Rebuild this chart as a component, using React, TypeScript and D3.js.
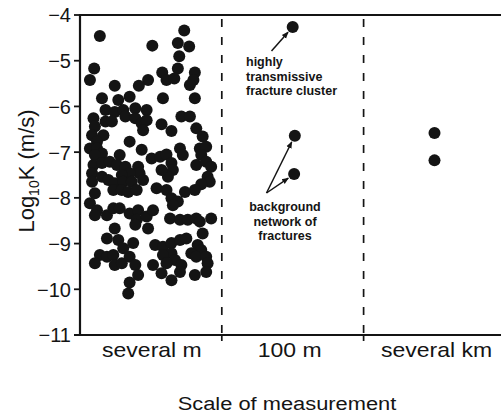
import React from "react";
import * as d3 from "d3";

const categories = ["several m", "100 m", "several km"];
const yTicks = [-4, -5, -6, -7, -8, -9, -10, -11];

// [position within band (0-1), log10 K]
const severalM: [number, number][] = [
  [.14,-4.46],[.51,-4.67],[.735,-4.34],[.69,-4.61],[.77,-4.69],[.70,-4.90],[.10,-5.17],[.07,-5.42],
  [.69,-5.17],[.58,-5.26],[.61,-5.42],[.665,-5.39],[.81,-5.26],[.80,-5.42],[.48,-5.42],[.415,-5.55],
  [.245,-5.55],[.775,-5.53],
  [.81,-5.82],[.585,-5.82],[.715,-6.22],[.775,-6.22],[.82,-6.48],[.865,-6.66],[.575,-6.39],[.645,-6.54],
  [.35,-6.77],[.435,-6.95],[.505,-7.14],[.565,-7.10],[.61,-7.05],[.705,-6.92],[.725,-7.06],[.845,-6.92],
  [.89,-6.88],[.855,-7.06],[.82,-7.28],[.89,-7.21],[.925,-7.32],[.645,-7.24],[.655,-7.39],[.62,-7.54],
  [.575,-7.39],[.54,-7.79],[.61,-7.83],[.90,-7.54],[.915,-7.65],[.855,-7.70],[.81,-7.83],[.74,-7.87],
  [.155,-5.82],[.27,-5.86],[.35,-5.79],[.18,-6.08],[.245,-6.12],[.305,-6.08],[.39,-6.04],[.47,-6.08],
  [.32,-6.22],[.39,-6.26],[.435,-6.37],[.47,-6.30],[.445,-6.52],[.095,-6.26],[.105,-6.44],[.18,-6.33],
  [.225,-6.33],[.085,-6.63],[.165,-6.63],[.12,-6.77],[.07,-6.92],[.12,-6.92],[.155,-7.03],[.105,-7.06],
  [.095,-7.28],[.155,-7.24],[.21,-7.21],[.28,-7.06],[.26,-7.28],[.32,-7.32],[.41,-7.32],[.42,-7.46],
  [.35,-7.46],[.295,-7.50],[.085,-7.46],[.085,-7.65],[.155,-7.54],[.20,-7.61],[.245,-7.68],[.305,-7.65],
  [.365,-7.65],[.445,-7.61],[.235,-7.83],[.295,-7.83],[.34,-7.87],[.40,-7.83],[.105,-7.90],
  [.07,-8.12],[.12,-8.27],[.105,-8.38],[.19,-8.38],[.235,-8.23],[.28,-8.23],[.35,-8.34],[.41,-8.27],
  [.40,-8.48],[.47,-8.41],[.515,-8.27],[.48,-8.67],[.39,-8.59],[.645,-8.01],[.69,-8.08],[.655,-8.16],
  [.635,-8.45],[.705,-8.48],[.76,-8.48],[.82,-8.45],[.845,-8.52],[.925,-8.45],[.865,-8.78],[.245,-8.67],
  [.19,-8.89],[.27,-8.92],[.305,-9.10],[.375,-8.99],[.53,-9.03],[.585,-9.07],[.645,-8.99],[.705,-8.92],
  [.75,-8.89],[.83,-9.03],[.855,-9.14],[.785,-9.21],[.82,-9.29],[.89,-9.29],[.90,-9.43],[.89,-9.62],
  [.645,-9.21],[.585,-9.25],[.67,-9.36],[.61,-9.43],[.715,-9.47],[.705,-9.62],[.515,-9.47],[.575,-9.65],
  [.645,-9.80],[.81,-9.69],[.14,-9.25],[.105,-9.43],[.19,-9.29],[.235,-9.25],[.245,-9.47],[.295,-9.43],
  [.35,-9.29],[.39,-9.47],[.41,-9.69],[.35,-9.85],[.34,-10.09],
];
const hundredM: [number, number][] = [[.50,-4.26],[.515,-6.64],[.51,-7.48]];
const severalKm: [number, number][] = [[.50,-6.58],[.50,-7.18]];

const W = 501, H = 416;
const left = 80, top = 15, bottom = 335, right = 505.4;
const ink = "#141414";
const font = "Liberation Sans, Arial, Helvetica, sans-serif";

export default function App() {
  const x = d3.scaleBand<string>().domain(categories).range([left, right]).padding(0);
  const y = d3.scaleLinear().domain([-11, -4]).range([bottom, top]);
  const bw = x.bandwidth();
  const groups: [string, [number, number][]][] = [
    ["several m", severalM], ["100 m", hundredM], ["several km", severalKm],
  ];
  const px = (cat: string, f: number) => (x(cat) as number) + f * bw;

  const arrowTo = (sx: number, sy: number, d: [number, number], cat: string) => {
    const ex = px(cat, d[0]), ey = y(d[1]);
    const dx = ex - sx, dy = ey - sy, L = Math.hypot(dx, dy);
    return { x1: sx, y1: sy, x2: ex - (dx / L) * 7, y2: ey - (dy / L) * 7 };
  };
  const arrows = [
    arrowTo(271.5, 51, hundredM[0], "100 m"),
    arrowTo(266.5, 193, hundredM[1], "100 m"),
    arrowTo(266.5, 193, hundredM[2], "100 m"),
  ];

  const boundaries = categories.slice(1).map((c) => x(c) as number);

  return (
    <svg width={W} height={H} style={{ position: "absolute", left: 0, top: 0, background: "#fff" }}
      fontFamily={font}>
      <defs>
        <marker id="ah" viewBox="0 0 10 10" refX="9" refY="5" markerWidth="7" markerHeight="7"
          orient="auto" markerUnits="userSpaceOnUse">
          <path d="M0,1 L10,5 L0,9 Z" fill={ink} />
        </marker>
      </defs>
      {/* frame */}
      <line x1={left} x2={W} y1={top} y2={top} stroke={ink} strokeWidth={2.2} />
      <line x1={left} x2={left} y1={top - 1} y2={bottom + 1} stroke={ink} strokeWidth={2.2} />
      <line x1={left - 6} x2={W} y1={bottom} y2={bottom} stroke={ink} strokeWidth={2.2} />
      {boundaries.map((b, i) => (
        <g key={i}>
          <line x1={b} x2={b} y1={top + 4} y2={bottom} stroke={ink} strokeWidth={1.7}
            strokeDasharray="8,10" />
          <line x1={b} x2={b} y1={bottom} y2={bottom + 6} stroke={ink} strokeWidth={1.7} />
        </g>
      ))}
      {/* y ticks */}
      {yTicks.map((t) => (
        <g key={t}>
          <line x1={left - 6} x2={left} y1={y(t)} y2={y(t)} stroke={ink} strokeWidth={1.8} />
          <text x={71} y={y(t)} dy="0.37em" textAnchor="end" fontSize={20} fill={ink}>
            {"\u2212" + Math.abs(t)}
          </text>
        </g>
      ))}
      {/* category labels */}
      {categories.map((c) => (
        <g key={c} transform={`translate(${(x(c) as number) + bw / 2 + (c === "several m" ? 1 : c === "100 m" ? -3 : 2)},357) scale(1.15,1)`}>
          <text textAnchor="middle" fontSize={20} fill={ink}>{c}</text>
        </g>
      ))}
      <g transform="translate(287,410) scale(1.15,1)">
        <text textAnchor="middle" fontSize={19} fill={ink}>Scale of measurement</text>
      </g>
      <text transform="translate(34,171) rotate(-90)" textAnchor="middle" fontSize={22} fill={ink}>
        Log<tspan fontSize={14} dy="5">10</tspan><tspan dy="-5">K (m/s)</tspan>
      </text>
      {/* points */}
      {groups.map(([cat, pts]) =>
        pts.map((d, i) => (
          <circle key={cat + i} cx={px(cat, d[0])} cy={y(d[1])} r={6} fill={ink} />
        ))
      )}
      {/* annotations */}
      {arrows.map((a, i) => (
        <line key={i} {...a} stroke={ink} strokeWidth={1.5} markerEnd="url(#ah)" />
      ))}
      <g fontSize={12.5} fontWeight="bold" fill={ink}>
        <text x={246} y={66}>highly</text>
        <text x={246} y={80.5}>transmissive</text>
        <text x={246} y={95}>fracture cluster</text>
        <text x={285} y={211} textAnchor="middle">background</text>
        <text x={285} y={225.5} textAnchor="middle">network of</text>
        <text x={285} y={240} textAnchor="middle">fractures</text>
      </g>
    </svg>
  );
}
